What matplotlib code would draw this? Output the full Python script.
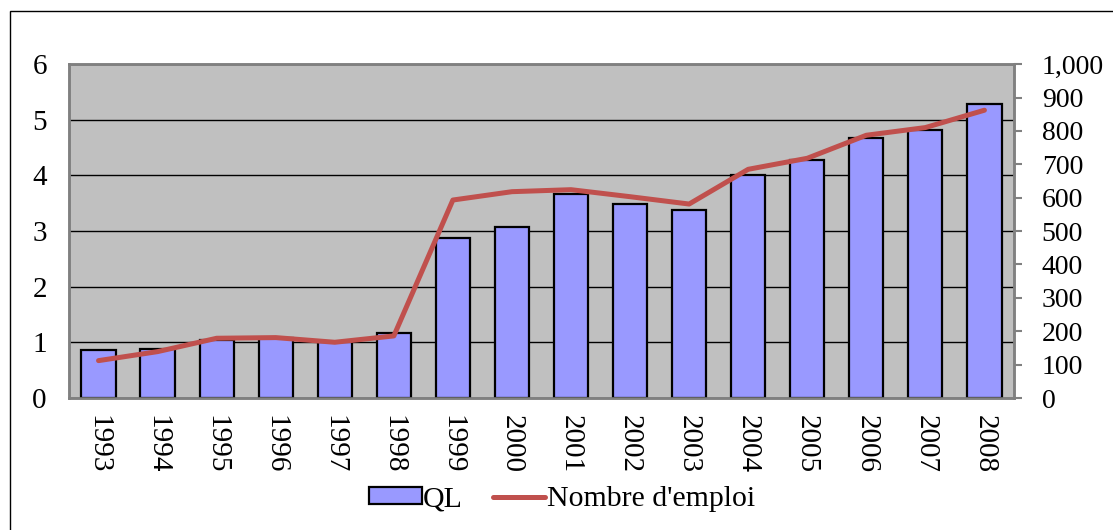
import matplotlib
matplotlib.use("Agg")
import matplotlib.pyplot as plt
from matplotlib.patches import Rectangle
from matplotlib.ticker import FuncFormatter

# data
years = ["1993", "1994", "1995", "1996", "1997", "1998", "1999", "2000",
         "2001", "2002", "2003", "2004", "2005", "2006", "2007", "2008"]
ql = [0.86, 0.88, 1.05, 1.07, 1.01, 1.16, 2.88, 3.08,
      3.67, 3.48, 3.38, 4.00, 4.27, 4.67, 4.81, 5.28]
emploi = [112, 139, 179, 181, 167, 186, 593, 618,
          624, 603, 581, 685, 718, 787, 810, 862]

plt.rcParams["font.family"] = ["Liberation Serif", "DejaVu Serif"]
plt.rcParams["font.size"] = 20

fig = plt.figure(figsize=(11.13, 5.30), dpi=100)
ax = fig.add_axes([0.062, 0.249, 0.849, 0.630])
ax2 = ax.twinx()

x = range(len(years))
ax.set_facecolor("#C0C0C0")
ax.set_axisbelow(True)
ax.yaxis.grid(True, color="black", lw=1.0)
bars = ax.bar(x, ql, width=0.58, color="#9999FF", edgecolor="black", lw=1.6,
              label="QL", zorder=3)
ax.set_ylim(0, 6)
ax.set_xlim(-0.5, len(years) - 0.5)
ax.set_yticks(range(0, 7))
ax.set_xticks(list(x))
ax.set_xticklabels(years, rotation=-90, fontsize=21)
ax.tick_params(axis="y", length=0, pad=16, labelsize=21)
ax.tick_params(axis="x", length=0, pad=12)

line, = ax2.plot(x, emploi, color="#C0504D", lw=3.6, label="Nombre d'emploi",
                 solid_capstyle="round", zorder=4)
ax2.set_ylim(0, 1000)
ax2.set_yticks(range(0, 1001, 100))
ax2.yaxis.set_major_formatter(FuncFormatter(lambda v, p: f"{int(v):,}"))
ax2.tick_params(axis="y", length=6, width=1.5, color="#808080", pad=14)

for a in (ax, ax2):
    for s in a.spines.values():
        s.set_color("#808080")
        s.set_linewidth(1.8)

fig.legend([bars, line], ["QL", "Nombre d'emploi"], loc="center",
           bbox_to_anchor=(0.505, 0.058), ncol=2, frameon=False,
           fontsize=21.5, handlelength=1.75, handletextpad=0.05,
           columnspacing=1.0, handleheight=0.5)

# outer chart border
fig.add_artist(Rectangle((10 / 1113, -0.05), 1.1, 1 - 11 / 530 + 0.05,
                         transform=fig.transFigure, fill=False,
                         edgecolor="black", lw=1.0))

fig.savefig("out.png", dpi=100)
